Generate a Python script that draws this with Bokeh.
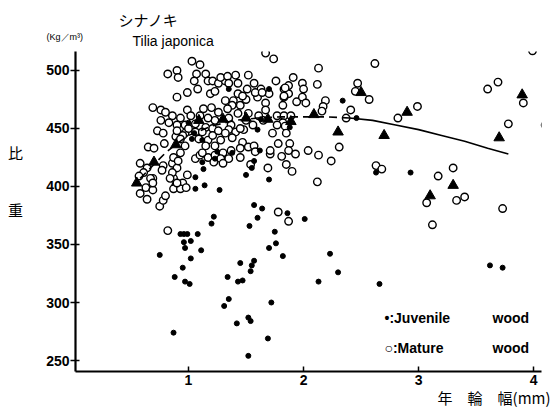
from bokeh.plotting import figure
from bokeh.models import Label, FixedTicker
from bokeh.embed import file_html
from bokeh.resources import INLINE

# ---- data (ring width mm, density kg/m3) ----
juv_x = [1.57,1.64,1.86,1.22,1.20,1.60,1.53,2.01,1.75,1.76,
         1.70,1.82,0.93,0.96,0.99,1.08,0.96,0.97,1.02,1.11,
         0.75,1.02,0.95,0.88,0.97,1.01,1.45,1.57,1.55,1.54,
         1.34,1.43,1.47,2.13,1.35,1.31,1.72,1.42,1.52,1.54,
         1.69,0.87,1.52,2.23,2.30,2.66,3.62,3.73,2.63,2.93,
         1.60,1.88,1.62,1.57,1.55,1.50,1.70,1.27,1.13,1.06,
         1.14,1.06,1.12,1.03,1.70,2.34,2.46,1.63,1.38,1.23,
         1.00,1.05,1.12,1.25,1.35]
juv_y = [384,381,377,374,368,373,366,372,361,351,
         347,340,359,359,359,359,352,347,353,345,
         341,338,330,322,318,316,334,336,332,327,
         322,318,319,318,303,297,300,282,287,284,
         269,274,254,342,326,316,332,330,412,412,
         449,451,431,422,416,410,406,397,415,408,
         401,398,421,441,484,474,459,458,429,424,
         455,446,440,430,484]

mat_x = [1.74,1.67,2.13,2.62,2.12,1.91,1.76,1.99,2.00,1.87,
         1.83,1.87,1.83,1.94,1.99,2.02,1.82,2.19,2.17,2.16,
         2.47,2.45,2.57,2.41,2.37,2.82,2.99,3.99,3.60,3.69,
         3.91,3.78,4.10,1.77,1.83,1.89,1.82,1.77,1.84,1.73,
         1.85,1.78,1.88,1.87,1.71,1.81,1.93,1.85,1.90,2.04,
         2.13,2.31,2.24,2.12,2.63,2.68,3.17,3.30,3.07,3.33,
         3.40,3.73,3.12,1.78,1.87,1.03,1.10,0.82,0.90,0.91,
         1.07,1.15,1.05,1.17,1.21,1.26,1.08,0.99,0.90,1.19,
         1.23,0.69,0.76,0.99,1.13,1.20,1.32,1.41,1.52,1.57,
         1.51,1.63,1.70,1.60,1.50,1.45,1.39,1.32,1.43,1.28,
         1.34,1.35,1.43,1.58,1.64,1.67,1.47,1.38,1.34,1.84,
         1.83,1.67,1.26,1.35,1.43,1.52,1.65,1.23,1.37,1.56,
         0.86,0.93,1.02,1.10,1.17,0.90,0.97,1.06,1.15,1.21,
         0.83,0.76,0.80,1.06,0.97,0.73,0.78,0.65,0.70,0.79,
         0.58,0.64,0.61,0.57,0.69,0.63,0.69,0.58,0.64,0.75,
         0.78,0.82,0.87,0.89,0.95,0.87,0.93,0.98,0.99,0.86,
         0.90,0.87,0.93,0.89,0.95,0.78,0.77,0.91,0.86,0.84,
         0.90,0.67,0.69,0.80,1.06,1.10,1.17,1.12,1.23,1.22,
         0.97,0.93,1.09,1.17,1.23,1.15,1.12,0.90,1.00,1.21,
         1.26,1.35,1.41,1.48,1.32,1.38,1.28,1.47,1.52,1.57,
         1.45,1.37,1.30,1.35,1.28,1.30,1.45,1.54,1.58,1.71,
         1.69,1.50,1.61,1.45]
mat_y = [510,515,502,506,488,494,491,489,484,487,
         484,480,477,473,477,472,470,474,469,465,
         489,482,475,466,459,459,469,517,484,490,
         472,454,453,461,461,461,455,453,452,446,
         446,437,437,431,428,426,428,419,413,431,
         427,434,422,404,418,415,409,416,386,388,
         391,381,367,378,370,508,505,497,500,494,
         497,497,491,491,491,489,484,481,477,480,
         482,468,466,466,467,468,491,496,496,489,
         484,484,480,477,475,470,474,474,480,494,
         495,489,489,481,481,472,478,470,467,485,
         478,466,464,459,463,463,457,457,453,453,
         461,459,461,461,459,453,453,454,451,450,
         455,457,464,447,446,448,446,434,433,437,
         420,416,412,409,407,399,397,394,389,383,
         388,362,407,401,403,398,398,399,410,420,
         416,425,429,443,444,418,414,422,412,407,
         403,407,403,392,424,427,425,429,427,421,
         435,441,441,440,435,435,447,448,450,444,
         448,449,447,449,446,442,440,438,434,435,
         433,431,429,424,424,420,425,419,430,431,
         416,457,461,450]

tri_x = [0.55,0.70,0.89,1.09,1.30,1.50,1.69,1.89,2.09,2.30,2.50,2.70,2.90,3.10,3.30,3.70,3.90]
tri_y = [403,421,436,457,458,459,458,456,462,447,481,444,464,392,401,442,479]

curve_x = [0.58,0.7,0.8,0.9,1.0,1.2,1.4,1.6,1.8,2.0,2.2,2.4,2.6,2.8,3.0,3.2,3.4,3.6,3.78]
curve_y = [407,419,429,437,444,452,457,459,460,460,460,459,457,453,449,444,439,433,428]
curve_split = 11  # dashed up to this index, solid after

x_ticks = [1, 2, 3, 4]
y_ticks = [250, 300, 350, 400, 450, 500]

assert len(juv_x) == len(juv_y) and len(mat_x) == len(mat_y)

# ---- layout geometry (page pixels) ----
W, H = 551, 410
FL, FR, FT, FB = 75, 541, 51, 371      # frame edges
SX = 115.06                             # px per mm
SY = 1.161                              # px per kg/m3
X0 = 1 - (188 - FL) / SX                # x=1 sits at px 188
X1 = X0 + (FR - FL) / SX
Y0 = 250 - (FB - 360) / SY              # 250 sits at px 360
Y1 = 500 + (70 - FT) / SY               # 500 sits at px 70

p = figure(width=W, height=H, x_range=(X0, X1), y_range=(Y0, Y1),
           output_backend="svg", toolbar_location=None,
           min_border_left=FL, min_border_right=W - FR,
           min_border_top=FT, min_border_bottom=H - FB)
p.grid.visible = False
p.outline_line_color = None
p.background_fill_color = "white"
p.border_fill_color = "white"

for ax in (p.xaxis[0], p.yaxis[0]):
    ax.axis_line_width = 2.2
    ax.axis_line_color = "black"
    ax.major_tick_line_width = 1.5
    ax.major_tick_line_color = "black"
    ax.minor_tick_line_color = None
    ax.major_label_text_font = "Liberation Sans"
    ax.major_label_text_font_style = "bold"
    ax.major_label_text_font_size = "14px"
    ax.major_label_text_color = "black"

p.xaxis.ticker = FixedTicker(ticks=x_ticks)
p.yaxis.ticker = FixedTicker(ticks=y_ticks)
p.xaxis.major_tick_in = 5
p.xaxis.major_tick_out = 0
p.xaxis.major_label_standoff = 3
p.yaxis.major_tick_in = 4
p.yaxis.major_tick_out = 5
p.yaxis.major_label_standoff = 1

# data marks
p.scatter(mat_x, mat_y, marker="circle", size=7.5, fill_color="white",
          line_color="black", line_width=1.4)
p.scatter(juv_x, juv_y, marker="circle", size=5, fill_color="black", line_color="black")
p.scatter(tri_x, tri_y, marker="triangle", size=10.5, fill_color="black", line_color="black")
p.line(curve_x[:curve_split + 1], curve_y[:curve_split + 1], line_color="black",
       line_width=1.6, line_dash="8 5")
p.line(curve_x[curve_split:], curve_y[curve_split:], line_color="black", line_width=1.6)

# ---- text annotations (page pixel positions converted to data units) ----
def dx(px):
    return X0 + (px - FL) / SX

def dy(py):
    return Y0 + (FB - py) / SY

def lab(text, px, py, size, place="center", font="Liberation Sans", align="left", style="normal"):
    lbl = Label(x=dx(px), y=dy(py), text=text, text_font=font,
                text_font_size=size, text_align=align, text_baseline="middle",
                text_color="black", text_font_style=style)
    if place == "center":
        p.add_layout(lbl)
    else:
        p.add_layout(lbl, place)

lab("シナノキ", 148, 19, "15px", place="above", font="Noto Sans CJK JP", align="center")
lab("Tilia japonica", 132, 40, "14px", place="above")
lab("(Kg／m³)", 46, 36, "9px", place="above")
lab("比", 15, 152, "15px", place="left", font="Noto Sans CJK JP", align="center")
lab("重", 15, 209, "15px", place="left", font="Noto Sans CJK JP", align="center")
lab("年\u3000輪\u3000幅(mm)", 550, 397, "15px", place="below", font="Noto Sans CJK JP", align="right")
lab("•:Juvenile", 384, 317, "14px", style="bold")
lab("wood", 492, 317, "14px", style="bold")
lab("○:Mature", 384, 347, "14px", style="bold")
lab("wood", 492, 347, "14px", style="bold")

open("out.html", "w").write(file_html(p, INLINE))
